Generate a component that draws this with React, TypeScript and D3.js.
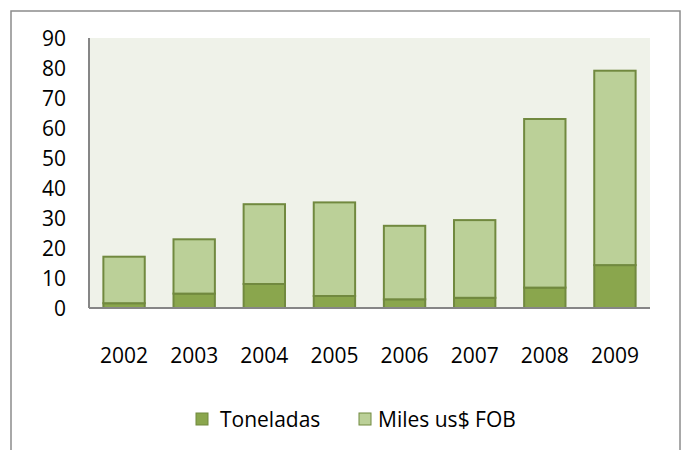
import React from "react";
import * as d3 from "d3";

const years = ["2002", "2003", "2004", "2005", "2006", "2007", "2008", "2009"];
const toneladas = [1.6, 4.8, 8, 4, 2.9, 3.4, 6.8, 14.3];
const milesFOB = [15.5, 18.1, 26.6, 31.2, 24.5, 25.9, 56.2, 64.8];
const yTicks = [0, 10, 20, 30, 40, 50, 60, 70, 80, 90];
const seriesNames = ["Toneladas", "Miles us$ FOB"];

const FONT = "'Open Sans', sans-serif";
const fills = ["#8AA64D", "#BBD098"];
const stroke = "#71893F";

export default function App() {
  const W = 686, H = 450;
  const left = 89, right = 650, top = 38, bottom = 308;
  const x = d3.scaleBand<string>().domain(years).range([left, right]).paddingInner(0.41).paddingOuter(0.205);
  const y = d3.scaleLinear().domain([0, 90]).range([bottom, top]);

  const rows = years.map((yr, i) => ({ year: yr, t: toneladas[i], m: milesFOB[i] }));
  const stack = d3.stack<any>().keys(["t", "m"])(rows);

  return (
    <svg width={W} height={H} style={{ position: "absolute", left: 0, top: 0 }}>
      <rect x={0} y={0} width={W} height={H} fill="#fff" />
      <rect x={11} y={11} width={669} height={460} fill="#fff" stroke="#8c8c8c" strokeWidth={1.5} />
      <rect x={left} y={top} width={right - left} height={bottom - top} fill="#EFF2E9" />
      {stack.map((layer, li) =>
        layer.map((d, i) => (
          <rect
            key={`${li}-${i}`}
            x={x(years[i])!}
            y={y(d[1])}
            width={x.bandwidth()}
            height={y(d[0]) - y(d[1])}
            fill={fills[li]}
            stroke={stroke}
            strokeWidth={2}
          />
        ))
      )}
      <line x1={left} x2={left} y1={top} y2={bottom} stroke="#868686" strokeWidth={2} />
      <line x1={left} x2={right} y1={bottom} y2={bottom} stroke="#868686" strokeWidth={2} />
      {yTicks.map((t) => (
        <text key={t} x={66} y={y(t)} textAnchor="end" dominantBaseline="central" fontFamily={FONT} fontSize={21} fill="#000">
          {t}
        </text>
      ))}
      {years.map((yr) => (
        <text key={yr} x={x(yr)! + x.bandwidth() / 2} y={355} textAnchor="middle" dominantBaseline="central" fontFamily={FONT} fontSize={21} fill="#000">
          {yr}
        </text>
      ))}
      {seriesNames.map((n, i) => {
        const lx = [196, 359][i];
        return (
          <g key={n}>
            <rect x={lx} y={413} width={12} height={12} fill={fills[i]} stroke={stroke} strokeWidth={1} />
            <text x={lx + 24 - (i === 1 ? 5 : 0)} y={419} dominantBaseline="central" fontFamily={FONT} fontSize={21} fill="#000">
              {n}
            </text>
          </g>
        );
      })}
    </svg>
  );
}
